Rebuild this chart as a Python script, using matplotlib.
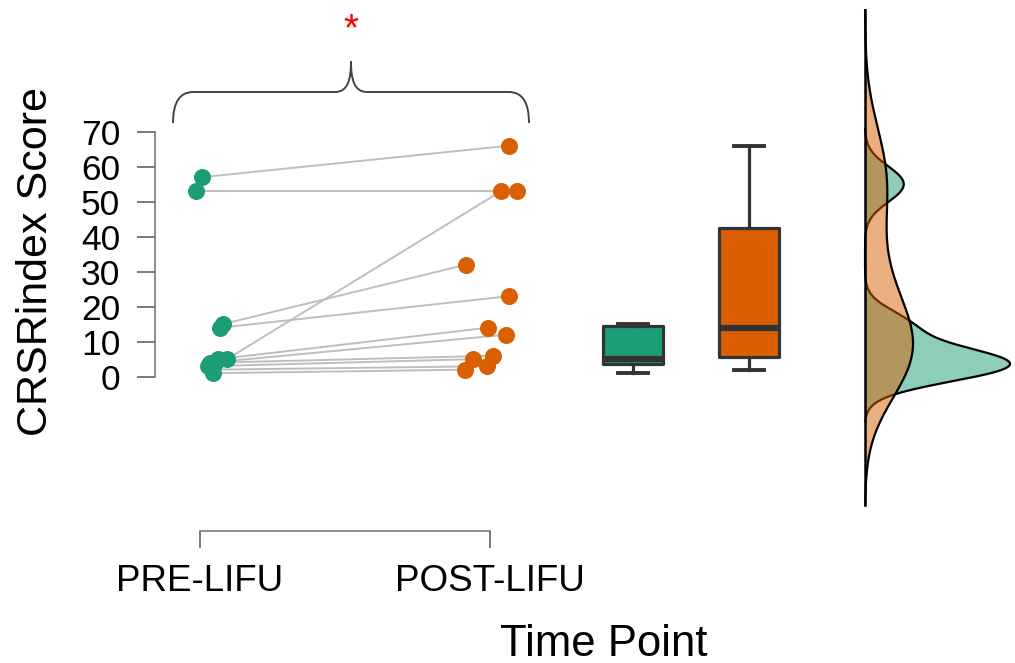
import numpy as np
import matplotlib
matplotlib.use("Agg")
import matplotlib.pyplot as plt
from matplotlib.path import Path
from matplotlib.patches import PathPatch

plt.rcParams['font.family'] = ['Liberation Sans', 'DejaVu Sans']

# ---------------- data ----------------
categories = ['PRE-LIFU', 'POST-LIFU']
pre_scores = [57, 53, 15, 14, 5, 5, 4, 4, 3, 2, 1]
post_scores = [66, 53, 32, 23, 53, 14, 12, 6, 5, 3, 2]
# horizontal jitter of each point
pre_jitter = [0.006, -0.014, 0.078, 0.069, 0.093, 0.062, 0.034, 0.052, 0.028, 0.041, 0.045]
post_jitter = [0.066, 0.092, -0.083, 0.066, 0.038, -0.007, 0.055, 0.010, -0.059, -0.010, -0.086]
y_ticks = [0, 10, 20, 30, 40, 50, 60, 70]
y_label = 'CRSRindex Score'
x_label = 'Time Point'
signif = '*'

GREEN = '#1B9E77'
ORANGE = '#D95F02'
DARK = '#333333'

# ---------------- layout ----------------
W, H = 1015, 663
fig = plt.figure(figsize=(W / 100, H / 100), dpi=100)
ax = fig.add_axes([0, 0, 1, 1])

PX_X0, PX_PER_X = 200.0, 290.0
PX_Y0, PX_PER_Y = 376.7, 3.5


def dx(px):
    return 1 + (px - PX_X0) / PX_PER_X


def dy(py):
    return (PX_Y0 - py) / PX_PER_Y


ax.set_xlim(dx(0), dx(W))
ax.set_ylim(dy(H), dy(0))

pos = np.array([1, 2])

# paired lines
for p, q, pj, qj in zip(pre_scores, post_scores, pre_jitter, post_jitter):
    ax.plot([pos[0] + pj, pos[1] + qj], [p, q], color='#BEBEBE', lw=1.4, zorder=2,
            solid_capstyle='round')

# points
ax.scatter(pos[0] + np.array(pre_jitter), pre_scores, s=150, color=GREEN, linewidths=0, zorder=3)
ax.scatter(pos[1] + np.array(post_jitter), post_scores, s=150, color=ORANGE, linewidths=0, zorder=3)

# boxplots
box_pos = [dx(633), dx(749)]
bp = ax.boxplot([pre_scores, post_scores], positions=box_pos, widths=0.21,
                patch_artist=True, showfliers=False, manage_ticks=False,
                boxprops=dict(edgecolor=DARK, linewidth=2.3),
                whiskerprops=dict(color=DARK, linewidth=2.3),
                capprops=dict(color=DARK, linewidth=2.8),
                medianprops=dict(color=DARK, linewidth=4.5, solid_capstyle='butt'))
for patch, col in zip(bp['boxes'], [GREEN, ORANGE]):
    patch.set_facecolor(col)
    patch.set_joinstyle('round')


# densities (Gaussian KDE, Silverman bandwidth like R's bw.nrd0)
def bw_nrd0(x):
    x = np.asarray(x, float)
    q75, q25 = np.percentile(x, [75, 25])
    lo = min(x.std(ddof=1), (q75 - q25) / 1.34)
    return 0.9 * lo * len(x) ** -0.2


def kde(x, n=512):
    x = np.asarray(x, float)
    bw = bw_nrd0(x)
    grid = np.linspace(x.min() - 3 * bw, x.max() + 3 * bw, n)
    d = np.exp(-0.5 * ((grid[:, None] - x[None, :]) / bw) ** 2).sum(1)
    d /= len(x) * bw * np.sqrt(2 * np.pi)
    return grid, d


g_pre, d_pre = kde(pre_scores)
g_post, d_post = kde(post_scores)
base = dx(865)
scale = (dx(1010) - base) / d_pre.max()
# green first (fill + outline), then orange fill over it, then orange outline
ax.fill_betweenx(g_pre, base, base + d_pre * scale, facecolor=GREEN, alpha=0.5,
                 edgecolor='none', zorder=2)
ax.plot(base + d_pre * scale, g_pre, color='black', lw=1.6, zorder=2.1)
ax.fill_betweenx(g_post, base, base + d_post * scale, facecolor=ORANGE, alpha=0.5,
                 edgecolor='none', zorder=2.2)
ax.plot(base + d_post * scale, g_post, color='black', lw=1.6, zorder=2.3)
ax.plot([base, base], [g_post.min(), g_post.max()], color='black', lw=1.8, zorder=2.4)

# axes styling
for s in ['top', 'right']:
    ax.spines[s].set_visible(False)
ax.spines['left'].set_position(('data', dx(155)))
ax.spines['left'].set_bounds(y_ticks[0], y_ticks[-1])
ax.spines['bottom'].set_position(('data', dy(530.7)))
ax.spines['bottom'].set_bounds(pos[0], pos[1])
for s in ['left', 'bottom']:
    ax.spines[s].set_color('#6E6E6E')
    ax.spines[s].set_linewidth(1.1)
ax.set_yticks(y_ticks)
ax.set_yticklabels([str(t) for t in y_ticks], fontsize=25.5)
ax.set_xticks(pos)
ax.set_xticklabels(categories, fontsize=26.5)
ax.tick_params(axis='y', length=13, width=1.1, color='#555555', pad=12, direction='out')
ax.tick_params(axis='x', length=12.5, width=1.1, color='#555555', pad=11.5, direction='out')
ax.patch.set_visible(False)

# axis titles
fig.text(36 / W, 1 - 262 / H, y_label, rotation=90, ha='center', va='center', fontsize=31)
ax.text(dx(604), dy(656), x_label, ha='center', va='baseline', fontsize=31.5)

# curly brace above the pair
xl, xr = dx(173), dx(529)
xc = (xl + xr) / 2
yb, yh, yt = dy(123), dy(92), dy(61)
r = dx(193) - dx(173)
r2 = dx(351) - dx(335)
verts = [(xl, yb), (xl, yh), (xl + r, yh),
         (xc - r2, yh),
         (xc - r2 * 0.2, yh), (xc, yh + (yt - yh) * 0.4), (xc, yt),
         (xc, yh + (yt - yh) * 0.4), (xc + r2 * 0.2, yh), (xc + r2, yh),
         (xr - r, yh),
         (xr, yh), (xr, yb)]
codes = [Path.MOVETO, Path.CURVE3, Path.CURVE3,
         Path.LINETO,
         Path.CURVE4, Path.CURVE4, Path.CURVE4,
         Path.CURVE4, Path.CURVE4, Path.CURVE4,
         Path.LINETO,
         Path.CURVE3, Path.CURVE3]
ax.add_patch(PathPatch(Path(verts, codes), facecolor='none', edgecolor='#444444', lw=1.4))
ax.text(xc, dy(30), signif, color='red', fontsize=28, ha='center', va='center')

fig.savefig('out.png', dpi=100)
